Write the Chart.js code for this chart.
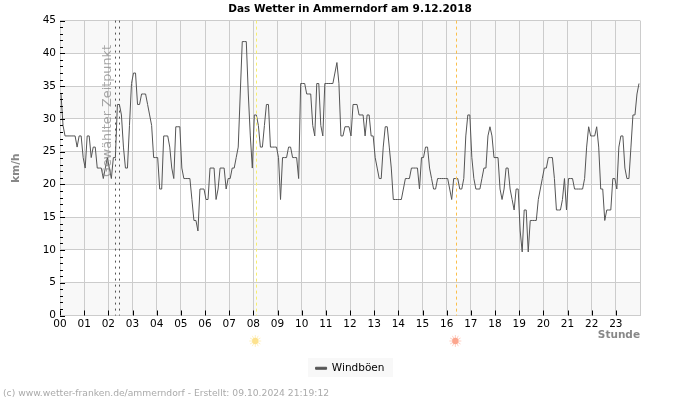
<!DOCTYPE html>
<html>
<head>
<meta charset="utf-8">
<script src="https://cdn.jsdelivr.net/npm/chart.js@4"></script>
<style>
    html, body { margin: 0; padding: 0; background: #fff; }
    canvas { display: block; }
</style>
</head>
<body>
<canvas id="windChart" width="700" height="400"></canvas>
<script>
// ===== DATA =====
const hourLabels = ['00', '01', '02', '03', '04', '05', '06', '07', '08', '09', '10', '11',
    '12', '13', '14', '15', '16', '17', '18', '19', '20', '21', '22', '23'];
const yTickValues = [0, 5, 10, 15, 20, 25, 30, 35, 40, 45];

// one value every 5 minutes, one row per hour
const gusts = [
    33.8, 29, 27.4, 27.4, 27.4, 27.4, 27.4, 27.4, 25.7, 27.4, 27.4, 24.1,
    22.5, 27.4, 27.4, 24.1, 25.7, 25.7, 22.5, 22.5, 22.5, 20.9, 22.5, 24.1,
    22.5, 20.9, 24.1, 24.1, 32.2, 32.2, 30.6, 25.7, 22.5, 22.5, 29, 35.4,
    37, 37, 32.2, 32.2, 33.8, 33.8, 33.8, 32.2, 30.6, 29, 24.1, 24.1,
    24.1, 19.3, 19.3, 27.4, 27.4, 27.4, 25.7, 22.5, 20.9, 28.8, 28.8, 28.8,
    22.5, 20.9, 20.9, 20.9, 20.9, 17.7, 14.5, 14.5, 12.9, 19.3, 19.3, 19.3,
    17.7, 17.7, 22.5, 22.5, 22.5, 17.7, 19.3, 22.5, 22.5, 22.5, 19.3, 20.9,
    20.9, 22.5, 22.5, 24.1, 25.7, 33.8, 41.8, 41.8, 41.8, 33.8, 27.4, 22.5,
    30.6, 30.6, 29, 25.7, 25.7, 29, 32.2, 32.2, 25.7, 25.7, 25.7, 25.7,
    24.1, 17.7, 24.1, 24.1, 24.1, 25.7, 25.7, 24.1, 24.1, 24.1, 20.9, 35.4,
    35.4, 35.4, 33.8, 33.8, 33.8, 29, 27.4, 35.4, 35.4, 29, 27.4, 35.4,
    35.4, 35.4, 35.4, 35.4, 37, 38.6, 35.4, 27.4, 27.4, 28.8, 28.8, 28.8,
    27.4, 32.2, 32.2, 32.2, 30.6, 30.6, 30.6, 27.4, 30.6, 30.6, 27.4, 27.4,
    24.1, 22.5, 20.9, 20.9, 25.7, 28.8, 28.8, 25.7, 22.5, 17.7, 17.7, 17.7,
    17.7, 17.7, 19.3, 20.9, 20.9, 20.9, 22.5, 22.5, 22.5, 22.5, 19.3, 24.1,
    24.1, 25.7, 25.7, 22.5, 20.9, 19.3, 19.3, 20.9, 20.9, 20.9, 20.9, 20.9,
    20.9, 19.3, 17.7, 20.9, 20.9, 20.9, 19.3, 19.3, 20.9, 27.4, 30.6, 30.6,
    24.1, 20.9, 19.3, 19.3, 19.3, 20.9, 22.5, 22.5, 27.4, 28.8, 27.4, 24.1,
    24.1, 24.1, 19.3, 17.7, 19.3, 22.5, 22.5, 19.3, 17.7, 16.1, 19.3, 19.3,
    12.9, 9.7, 16.1, 16.1, 9.7, 14.5, 14.5, 14.5, 14.5, 17.7, 19.3, 20.9,
    22.5, 22.5, 24.1, 24.1, 24.1, 20.9, 16.1, 16.1, 16.1, 17.7, 20.9, 16.1,
    20.9, 20.9, 20.9, 19.3, 19.3, 19.3, 19.3, 19.3, 20.9, 25.7, 28.8, 27.4,
    27.4, 27.4, 28.8, 25.7, 19.3, 19.3, 14.5, 16.1, 16.1, 16.1, 20.9, 20.9,
    19.3, 25.7, 27.4, 27.4, 22.5, 20.9, 20.9, 25.7, 30.6, 30.6, 33.8, 35.4
];

const selectedTimes = [2.27, 2.43];   // gewaehlter Zeitpunkt
const sunrise = 8.1;
const sunset = 16.38;

const FONT = '"DejaVu Sans", sans-serif';

// ===== PLUGIN: bands behind the grid =====
const bandsPlugin = {
    id: 'bands',
    beforeDraw(chart) {
        const { ctx, chartArea: area, scales: { y } } = chart;
        ctx.save();
        ctx.fillStyle = '#f8f8f8';
        for (let i = 0; i < yTickValues.length - 1; i += 2) {
            const bottom = y.getPixelForValue(yTickValues[i]);
            const top = y.getPixelForValue(yTickValues[i + 1]);
            ctx.fillRect(area.left, top, area.right - area.left, bottom - top);
        }
        // legend background
        ctx.fillRect(308, 358, 85, 19);
        ctx.restore();
    }
};

function drawSun(ctx, x, y, core, ray) {
    ctx.save();
    ctx.strokeStyle = ray;
    ctx.lineWidth = 1;
    for (let i = 0; i < 12; i++) {
        const a = i * Math.PI / 6;
        ctx.beginPath();
        ctx.moveTo(x + Math.cos(a) * 3, y + Math.sin(a) * 3);
        ctx.lineTo(x + Math.cos(a) * 6, y + Math.sin(a) * 6);
        ctx.stroke();
    }
    ctx.fillStyle = core;
    ctx.beginPath();
    ctx.arc(x, y, 3.2, 0, Math.PI * 2);
    ctx.fill();
    ctx.restore();
}

function drawMarker(ctx, x, top, bottom, color, dash) {
    ctx.save();
    ctx.strokeStyle = color;
    ctx.lineWidth = 1;
    ctx.setLineDash(dash);
    ctx.beginPath();
    ctx.moveTo(Math.round(x) + 0.5, top);
    ctx.lineTo(Math.round(x) + 0.5, bottom);
    ctx.stroke();
    ctx.restore();
}

// ===== PLUGIN: ticks, markers and loose texts =====
const overlayPlugin = {
    id: 'overlay',
    afterDatasetsDraw(chart) {
        const { ctx, chartArea: area, scales: { x, y } } = chart;

        // black ticks inside the plot
        ctx.save();
        ctx.strokeStyle = '#000';
        ctx.lineWidth = 1;
        for (let v = 0; v <= 45; v++) {
            const py = Math.round(y.getPixelForValue(v)) + 0.5;
            const len = v % 5 === 0 ? 5 : 3;
            ctx.beginPath();
            ctx.moveTo(area.left, py);
            ctx.lineTo(area.left + len, py);
            ctx.stroke();
        }
        hourLabels.forEach((label, h) => {
            const px = Math.round(x.getPixelForValue(h)) + 0.5;
            ctx.beginPath();
            ctx.moveTo(px, area.bottom);
            ctx.lineTo(px, area.bottom - 5);
            ctx.stroke();
        });
        ctx.restore();

        selectedTimes.forEach(t => drawMarker(ctx, x.getPixelForValue(t), area.top, area.bottom, '#555', [2, 4]));
        drawMarker(ctx, x.getPixelForValue(sunrise), area.top, area.bottom, '#f7ee6e', [3, 3]);
        drawMarker(ctx, x.getPixelForValue(sunset), area.top, area.bottom, '#fbc04c', [3, 3]);

        // rotated label of the selected time
        ctx.save();
        ctx.translate(108, 111);
        ctx.rotate(-Math.PI / 2);
        ctx.fillStyle = 'rgba(130,130,130,0.7)';
        ctx.font = '12.8px ' + FONT;
        ctx.textAlign = 'center';
        ctx.textBaseline = 'middle';
        ctx.fillText('Gewählter Zeitpunkt', 0, 0);
        ctx.restore();

        drawSun(ctx, x.getPixelForValue(sunrise) - 0.5, 341, '#fde28e', '#fdf0c4');
        drawSun(ctx, x.getPixelForValue(sunset) - 0.5, 341, '#fca68e', '#fdd0c4');

        // footer
        ctx.save();
        ctx.fillStyle = '#aaa';
        ctx.font = '9.2px ' + FONT;
        ctx.textBaseline = 'middle';
        ctx.fillText('(c) www.wetter-franken.de/ammerndorf - Erstellt: 09.10.2024 21:19:12', 3, 393.5);
        ctx.restore();
    }
};

// ===== CHART =====
new Chart(document.getElementById('windChart').getContext('2d'), {
    type: 'line',
    data: {
        datasets: [{
            label: 'Windböen',
            // each reading sits in the middle of its 5 minute slot
            data: gusts.map((v, i) => ({ x: (i + 0.5) / 12, y: v })),
            borderColor: '#555',
            backgroundColor: '#555',
            borderWidth: 1,
            pointRadius: 0,
            tension: 0
        }]
    },
    options: {
        responsive: false,
        animation: false,
        layout: { padding: { top: 0, right: 0, bottom: 16.5, left: 0 } },
        plugins: {
            title: {
                display: true,
                text: 'Das Wetter in Ammerndorf am 9.12.2018',
                color: '#000',
                font: { family: FONT, size: 10.5, weight: 'bold' },
                padding: { top: 3, bottom: 5 }
            },
            legend: {
                position: 'bottom',
                labels: {
                    color: '#000',
                    font: { family: FONT, size: 10.5 },
                    boxWidth: 11,
                    boxHeight: 2,
                    padding: 4
                }
            },
            tooltip: { enabled: false }
        },
        scales: {
            x: {
                type: 'linear',
                min: 0,
                max: 24,
                afterFit: scale => { scale.height = 43.5; },
                afterBuildTicks: scale => {
                    scale.ticks = hourLabels.map((l, h) => ({ value: h })).concat({ value: 24 });
                },
                ticks: {
                    autoSkip: false,
                    maxRotation: 0,
                    padding: 2,
                    color: '#000',
                    font: { family: FONT, size: 10.5 },
                    callback: v => hourLabels[v] || ''
                },
                grid: { color: '#ccc', drawTicks: false },
                border: { color: '#ccc' },
                title: {
                    display: true,
                    text: 'Stunde',
                    align: 'end',
                    color: '#888',
                    font: { family: FONT, size: 10.5, weight: 'bold' },
                    padding: { top: 0, bottom: 17 }
                }
            },
            y: {
                min: 0,
                max: 45,
                afterFit: scale => { scale.width = 60; },
                afterBuildTicks: scale => {
                    scale.ticks = yTickValues.map(v => ({ value: v }));
                },
                ticks: {
                    padding: 4,
                    color: '#000',
                    font: { family: FONT, size: 10.5 }
                },
                grid: { color: '#ccc', drawTicks: false },
                border: { color: '#ccc' },
                title: {
                    display: true,
                    text: 'km/h',
                    color: '#888',
                    font: { family: FONT, size: 10.5, weight: 'bold' },
                    padding: { top: 10, bottom: 0 }
                }
            },
            // empty axis that keeps the right margin, title and legend stay centred on the page
            rightMargin: {
                position: 'right',
                min: 0,
                max: 45,
                afterFit: scale => { scale.width = 60; },
                ticks: { display: false },
                grid: { display: false, drawTicks: false },
                border: { display: false }
            }
        }
    },
    plugins: [bandsPlugin, overlayPlugin]
});
</script>
</body>
</html>
